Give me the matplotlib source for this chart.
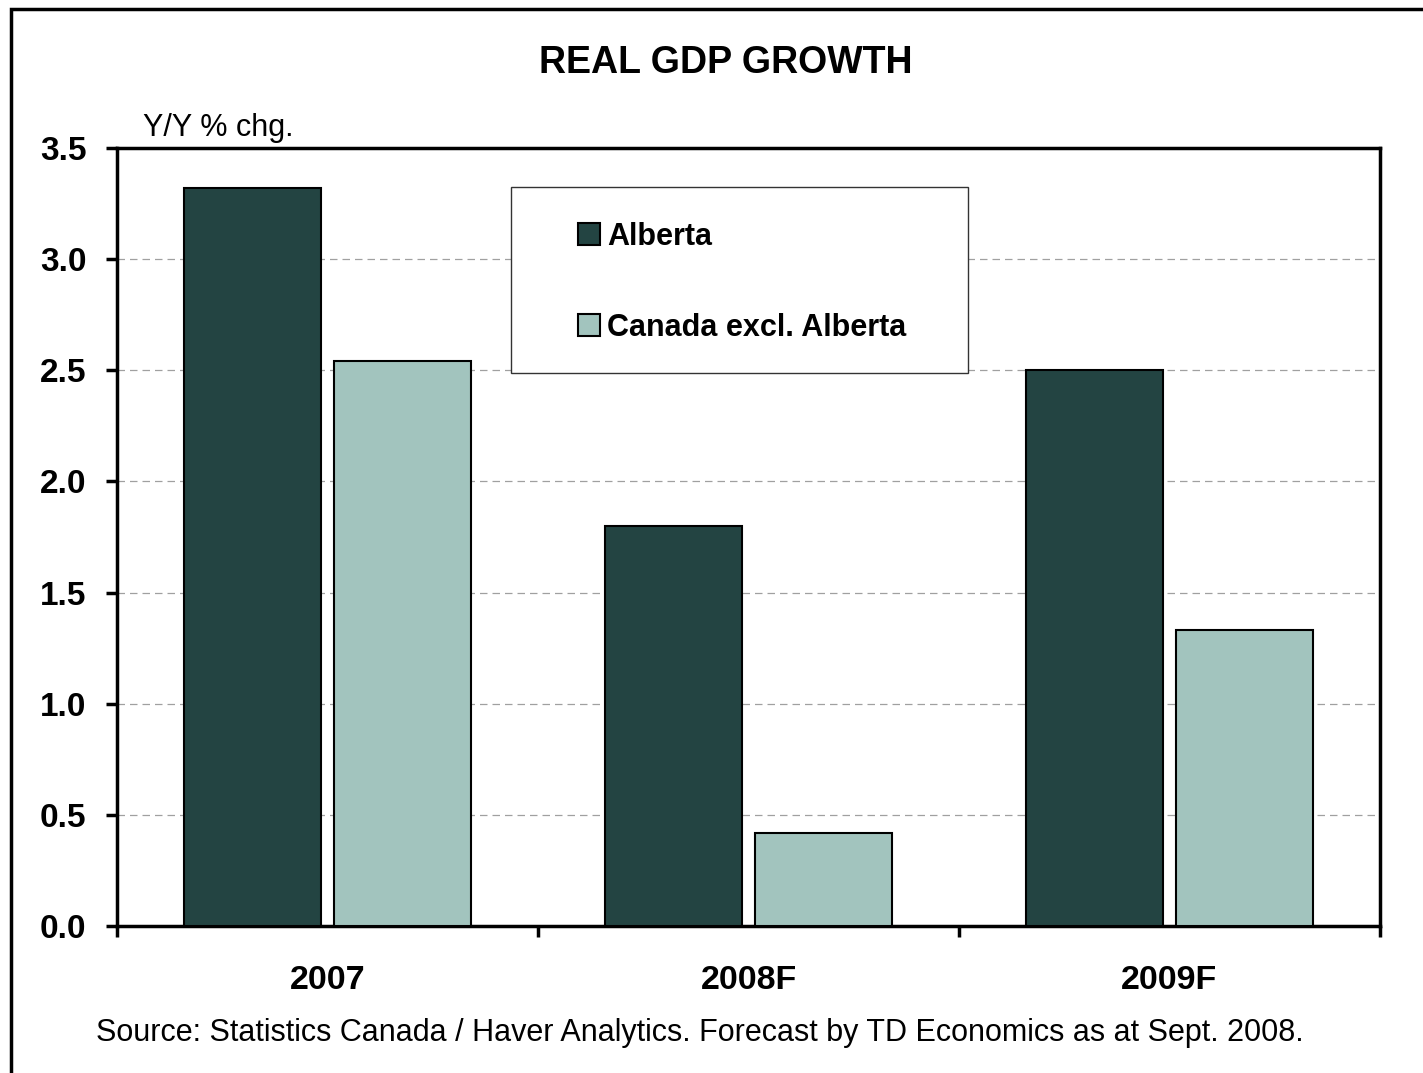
import matplotlib
matplotlib.use("Agg")
import matplotlib.pyplot as plt
import numpy as np
from matplotlib.patches import Rectangle

plt.rcParams['font.family'] = ['Liberation Sans', 'DejaVu Sans']

# Data
years = ['2007', '2008F', '2009F']
alberta = [3.32, 1.80, 2.50]
canada_ex_ab = [2.54, 0.42, 1.33]
series_names = ['Alberta', 'Canada excl. Alberta']
colors = ['#234442', '#a2c4be']

W, H = 1423, 1073
fig = plt.figure(figsize=(W / 100, H / 100), dpi=100)
ax = fig.add_axes([117 / W, 1 - 926 / H, (1380 - 117) / W, (926 - 148) / H])

x = np.arange(len(years))
width = 0.325
off = 0.178
ax.bar(x - off, alberta, width, color=colors[0], edgecolor='black',
       linewidth=1.5, label=series_names[0], zorder=3)
ax.bar(x + off, canada_ex_ab, width, color=colors[1], edgecolor='black',
       linewidth=1.5, label=series_names[1], zorder=3)

ax.set_xlim(-0.5, 2.5)
ax.set_ylim(0, 3.5)
ax.set_yticks(np.arange(0, 3.51, 0.5))
ax.set_yticklabels([f'{v:.1f}' for v in np.arange(0, 3.51, 0.5)],
                   fontsize=24, fontweight='bold')
ax.set_xticks(x)
ax.set_xticklabels(years, fontsize=24.5, fontweight='bold')
ax.set_xticks([-0.5, 0.5, 1.5, 2.5], minor=True)
ax.tick_params(axis='x', which='major', length=0, pad=28)
ax.tick_params(axis='x', which='minor', length=8, width=2.5, direction='out')
ax.tick_params(axis='y', length=8, width=2.5, direction='out', pad=14)

for s in ax.spines.values():
    s.set_linewidth(2.5)

# dashed gridlines
for v in np.arange(0.5, 3.01, 0.5):
    ax.axhline(v, color='#a0a0a0', linestyle=(0, (6, 4)), linewidth=0.9, zorder=1)

# legend box
box = Rectangle((0.312, 0.711), 0.362, 0.239, transform=ax.transAxes,
                facecolor='white', edgecolor='#333333', linewidth=1.0, zorder=4)
ax.add_patch(box)
leg = ax.legend(loc='upper left', bbox_to_anchor=(578 / W, 1 - 222 / H),
                bbox_transform=fig.transFigure, frameon=False, borderpad=0,
                borderaxespad=0, handlelength=0.72, handleheight=0.73,
                handletextpad=0.23, labelspacing=2.0,
                prop={'size': 22, 'weight': 'bold'})
leg.set_zorder(5)

# texts
fig.text(726 / W, 1 - 63 / H, 'REAL GDP GROWTH', ha='center', va='center',
         fontsize=27, fontweight='bold')
fig.text(143 / W, 1 - 128 / H, 'Y/Y % chg.', ha='left', va='center', fontsize=22)
fig.text(700 / W, 1 - 1033 / H,
         'Source: Statistics Canada / Haver Analytics. Forecast by TD Economics as at Sept. 2008.',
         ha='center', va='center', fontsize=22)

# outer frame (top and left edges visible)
frame = Rectangle((11 / W, -0.5), 2.0, 1.5 - 9 / H, transform=fig.transFigure,
                  facecolor='none', edgecolor='black', linewidth=2.5)
fig.add_artist(frame)

fig.savefig('out.png', dpi=100)
